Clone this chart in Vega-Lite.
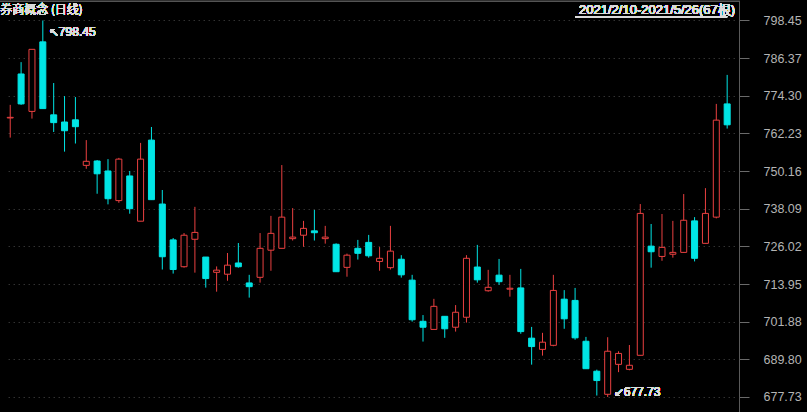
{
  "$schema": "https://vega.github.io/schema/vega-lite/v6.json",
  "width": 739,
  "height": 412,
  "autosize": {"type": "none"},
  "padding": {"left": 0, "top": 0, "right": 68, "bottom": 0},
  "background": "#000000",
  "config": {"view": {"stroke": null}},
  "data": {"values": [
    {"d": "2021-02-10", "o": 767.2, "h": 771.4, "l": 760.9, "c": 767.4},
    {"d": "2021-02-18", "o": 781.3, "h": 785.1, "l": 771.4, "c": 771.7},
    {"d": "2021-02-19", "o": 769.3, "h": 789.2, "l": 767.0, "c": 789.2},
    {"d": "2021-02-22", "o": 791.6, "h": 798.45, "l": 770.2, "c": 770.2},
    {"d": "2021-02-23", "o": 768.2, "h": 778.4, "l": 762.7, "c": 765.7},
    {"d": "2021-02-24", "o": 765.9, "h": 774.2, "l": 756.4, "c": 763.1},
    {"d": "2021-02-25", "o": 766.6, "h": 773.9, "l": 759.0, "c": 764.4},
    {"d": "2021-02-26", "o": 752.0, "h": 760.1, "l": 750.9, "c": 753.3},
    {"d": "2021-03-01", "o": 753.4, "h": 753.7, "l": 742.9, "c": 749.3},
    {"d": "2021-03-02", "o": 750.2, "h": 754.0, "l": 739.5, "c": 741.3},
    {"d": "2021-03-03", "o": 740.7, "h": 754.4, "l": 740.0, "c": 754.0},
    {"d": "2021-03-04", "o": 748.6, "h": 750.2, "l": 736.5, "c": 738.1},
    {"d": "2021-03-05", "o": 734.1, "h": 759.2, "l": 734.1, "c": 754.0},
    {"d": "2021-03-08", "o": 760.1, "h": 764.3, "l": 741.0, "c": 741.0},
    {"d": "2021-03-09", "o": 739.6, "h": 744.1, "l": 718.6, "c": 722.7},
    {"d": "2021-03-10", "o": 728.1, "h": 728.7, "l": 717.3, "c": 718.6},
    {"d": "2021-03-11", "o": 719.5, "h": 730.3, "l": 719.2, "c": 729.6},
    {"d": "2021-03-12", "o": 728.3, "h": 738.7, "l": 717.6, "c": 730.5},
    {"d": "2021-03-15", "o": 722.6, "h": 722.6, "l": 712.8, "c": 715.7},
    {"d": "2021-03-16", "o": 717.7, "h": 719.6, "l": 711.5, "c": 718.4},
    {"d": "2021-03-17", "o": 717.1, "h": 723.9, "l": 715.0, "c": 720.0},
    {"d": "2021-03-18", "o": 720.7, "h": 727.1, "l": 719.2, "c": 719.5},
    {"d": "2021-03-19", "o": 714.3, "h": 716.9, "l": 709.6, "c": 713.1},
    {"d": "2021-03-22", "o": 716.1, "h": 730.3, "l": 714.4, "c": 725.4},
    {"d": "2021-03-23", "o": 724.8, "h": 735.8, "l": 718.2, "c": 730.2},
    {"d": "2021-03-24", "o": 725.4, "h": 752.1, "l": 725.4, "c": 735.4},
    {"d": "2021-03-25", "o": 728.5, "h": 738.3, "l": 727.9, "c": 729.0},
    {"d": "2021-03-26", "o": 729.6, "h": 734.2, "l": 725.9, "c": 731.8},
    {"d": "2021-03-29", "o": 731.0, "h": 737.7, "l": 727.9, "c": 730.4},
    {"d": "2021-03-30", "o": 728.5, "h": 732.6, "l": 726.9, "c": 729.0},
    {"d": "2021-03-31", "o": 726.7, "h": 727.0, "l": 717.9, "c": 717.9},
    {"d": "2021-04-01", "o": 719.3, "h": 723.7, "l": 716.3, "c": 723.2},
    {"d": "2021-04-02", "o": 725.4, "h": 728.1, "l": 721.8, "c": 723.8},
    {"d": "2021-04-06", "o": 727.3, "h": 729.7, "l": 722.4, "c": 723.0},
    {"d": "2021-04-07", "o": 721.2, "h": 725.8, "l": 718.2, "c": 722.2},
    {"d": "2021-04-08", "o": 719.2, "h": 732.6, "l": 718.6, "c": 724.5},
    {"d": "2021-04-09", "o": 721.9, "h": 723.2, "l": 716.0, "c": 716.9},
    {"d": "2021-04-12", "o": 715.2, "h": 716.9, "l": 701.9, "c": 702.5},
    {"d": "2021-04-13", "o": 702.0, "h": 704.0, "l": 695.5, "c": 700.1},
    {"d": "2021-04-14", "o": 699.4, "h": 709.2, "l": 699.4, "c": 706.8},
    {"d": "2021-04-15", "o": 703.6, "h": 703.6, "l": 696.7, "c": 699.6},
    {"d": "2021-04-16", "o": 700.1, "h": 707.2, "l": 698.7, "c": 704.9},
    {"d": "2021-04-19", "o": 703.3, "h": 723.2, "l": 701.6, "c": 722.2},
    {"d": "2021-04-20", "o": 719.4, "h": 726.5, "l": 714.4, "c": 715.3},
    {"d": "2021-04-21", "o": 711.8, "h": 718.5, "l": 711.5, "c": 712.9},
    {"d": "2021-04-22", "o": 716.8, "h": 722.0, "l": 713.7, "c": 714.7},
    {"d": "2021-04-23", "o": 712.3, "h": 716.9, "l": 709.9, "c": 712.6},
    {"d": "2021-04-26", "o": 712.7, "h": 718.8, "l": 698.0, "c": 698.7},
    {"d": "2021-04-27", "o": 696.6, "h": 700.2, "l": 688.1, "c": 693.9},
    {"d": "2021-04-28", "o": 693.0, "h": 698.3, "l": 691.0, "c": 695.3},
    {"d": "2021-04-29", "o": 694.3, "h": 716.9, "l": 694.0, "c": 711.9},
    {"d": "2021-04-30", "o": 709.1, "h": 712.0, "l": 699.6, "c": 702.8},
    {"d": "2021-05-06", "o": 708.7, "h": 712.7, "l": 696.1, "c": 696.7},
    {"d": "2021-05-07", "o": 695.6, "h": 697.0, "l": 686.8, "c": 686.8},
    {"d": "2021-05-10", "o": 686.0, "h": 686.5, "l": 678.2, "c": 683.0},
    {"d": "2021-05-11", "o": 678.6, "h": 696.9, "l": 677.73, "c": 692.4},
    {"d": "2021-05-12", "o": 688.2, "h": 692.4, "l": 685.7, "c": 691.7},
    {"d": "2021-05-13", "o": 686.6, "h": 694.4, "l": 686.3, "c": 687.9},
    {"d": "2021-05-14", "o": 691.1, "h": 739.6, "l": 691.1, "c": 736.6},
    {"d": "2021-05-17", "o": 726.1, "h": 733.2, "l": 719.2, "c": 724.3},
    {"d": "2021-05-18", "o": 722.8, "h": 736.4, "l": 721.4, "c": 725.7},
    {"d": "2021-05-19", "o": 723.5, "h": 734.2, "l": 722.4, "c": 724.1},
    {"d": "2021-05-20", "o": 724.1, "h": 742.8, "l": 724.1, "c": 734.4},
    {"d": "2021-05-21", "o": 734.2, "h": 735.4, "l": 721.2, "c": 722.2},
    {"d": "2021-05-24", "o": 727.0, "h": 744.7, "l": 727.0, "c": 736.6},
    {"d": "2021-05-25", "o": 735.4, "h": 771.7, "l": 735.0, "c": 766.5},
    {"d": "2021-05-26", "o": 771.7, "h": 781.0, "l": 763.8, "c": 765.0}
  ]},
  "layer": [
    {
      "mark": {"type": "rule", "color": "#555555", "strokeWidth": 1},
      "encoding": {
        "y": {"datum": 804.55, "type": "quantitative", "title": null}
      }
    },
    {
      "mark": {"type": "rule", "strokeWidth": 1},
      "encoding": {
        "x": {"field": "d", "type": "ordinal", "axis": null,
              "scale": {"type": "band", "range": [4.8, 732.6], "paddingInner": 0, "paddingOuter": 0}},
        "y": {"field": "l", "type": "quantitative", "title": null,
              "scale": {"domain": [672.92, 805.02], "nice": false, "zero": false},
              "axis": {
                "orient": "right",
                "values": [677.73, 689.80, 701.88, 713.95, 726.02, 738.09, 750.16, 762.23, 774.30, 786.37, 798.45],
                "format": ".2f",
                "labelFont": "Liberation Sans",
                "labelFontSize": 12.5,
                "labelColor": "#b4b4b4",
                "labelPadding": 14,
                "labelAlign": "left",
                "labelBaseline": "middle",
                "labelFlush": false,
                "labelOverlap": false,
                "tickColor": "#6a6a6a",
                "tickSize": 10,
                "domainColor": "#5a5a5a",
                "grid": true,
                "gridColor": "#4a4a4a",
                "gridDash": [1, 4],
                "title": null
              }},
        "y2": {"field": "h"},
        "color": {"condition": {"test": "datum.c >= datum.o", "value": "#ea4040"}, "value": "#00e5e5"}
      }
    },
    {
      "mark": {"type": "bar", "size": 6, "strokeWidth": 1},
      "encoding": {
        "x": {"field": "d", "type": "ordinal", "axis": null},
        "y": {"field": "o", "type": "quantitative", "title": null},
        "y2": {"field": "c"},
        "fill": {"condition": {"test": "datum.c >= datum.o", "value": "#000000"}, "value": "#00e5e5"},
        "stroke": {"condition": {"test": "datum.c >= datum.o", "value": "#ea4040"}, "value": "#00e5e5"}
      }
    },
    {
      "mark": {"type": "text", "align": "left", "baseline": "middle", "dx": -10, "font": "Noto Sans CJK SC", "fontWeight": 300, "fontSize": 12, "color": "#dcdcdc"},
      "encoding": {
        "x": {"datum": "2021-02-10", "type": "ordinal"},
        "y": {"datum": 801.8, "type": "quantitative"},
        "text": {"value": "券商概念 (日线)"}
      }
    },
    {
      "mark": {"type": "text", "align": "right", "baseline": "middle", "dx": 8, "font": "Liberation Sans, Noto Sans CJK SC", "fontWeight": "normal", "fontSize": 13, "color": "#dcdcdc"},
      "encoding": {
        "x": {"datum": "2021-05-26", "type": "ordinal"},
        "y": {"datum": 801.8, "type": "quantitative"},
        "text": {"value": "2021/2/10-2021/5/26(67根)"}
      }
    },
    {
      "mark": {"type": "rule", "color": "#dcdcdc", "strokeWidth": 1},
      "encoding": {
        "x": {"datum": "2021-05-06", "type": "ordinal"},
        "x2": {"datum": "2021-05-26"},
        "y": {"datum": 799.7, "type": "quantitative"}
      }
    },
    {
      "mark": {"type": "text", "align": "left", "baseline": "middle", "dx": 6, "dy": 12, "font": "Liberation Sans, DejaVu Sans", "fontWeight": "normal", "fontSize": 12, "color": "#dcdcdc"},
      "encoding": {
        "x": {"datum": "2021-02-22", "type": "ordinal"},
        "y": {"datum": 798.45, "type": "quantitative"},
        "text": {"value": "↖798.45"}
      }
    },
    {
      "mark": {"type": "text", "align": "left", "baseline": "middle", "dx": 6, "dy": -5, "font": "Liberation Sans, DejaVu Sans", "fontWeight": "normal", "fontSize": 12, "color": "#dcdcdc"},
      "encoding": {
        "x": {"datum": "2021-05-11", "type": "ordinal"},
        "y": {"datum": 677.73, "type": "quantitative"},
        "text": {"value": "↙677.73"}
      }
    }
  ]
}
